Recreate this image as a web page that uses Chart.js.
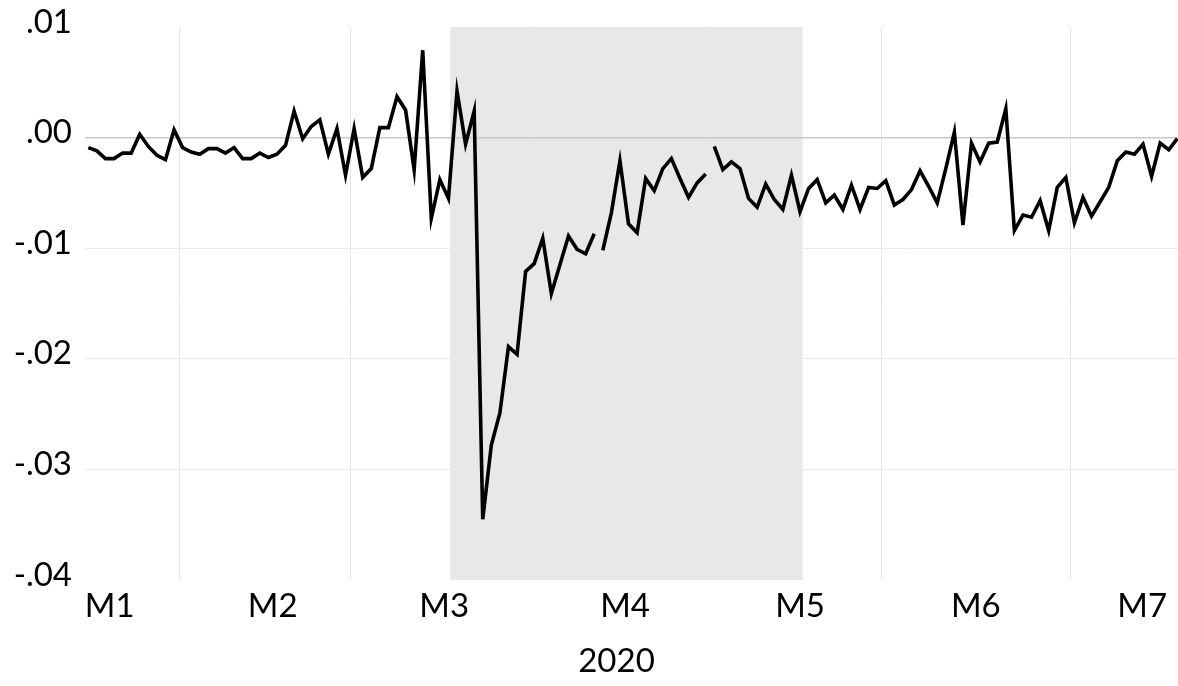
<!DOCTYPE html>
<html>
<head>
<meta charset="utf-8">
<script src="https://cdn.jsdelivr.net/npm/chart.js@4.4.1/dist/chart.umd.min.js"></script>
<style>
  html, body { margin: 0; padding: 0; background: #ffffff; }
  #wrap { width: 1178px; height: 686px; }
</style>
</head>
<body>
<div id="wrap"><canvas id="c" width="1178" height="686"></canvas></div>
<script>
// Daily series (trading-day index 0..127)
const values = [
  -0.0009, -0.0012, -0.0019, -0.0019, -0.0014, -0.0014, 0.0003, -0.0008, -0.0016, -0.0020,
   0.0007, -0.0009, -0.0013, -0.0015, -0.0010, -0.0010, -0.0014, -0.0009, -0.0019, -0.0019,
  -0.0014, -0.0018, -0.0015, -0.0007, 0.0024, -0.0001, 0.0010, 0.0016, -0.0015, 0.0008,
  -0.0034, 0.0008, -0.0036, -0.0028, 0.0009, 0.0009, 0.0037, 0.0025, -0.0029, 0.0079,
  -0.0073, -0.0038, -0.0055, 0.0042, -0.0006, 0.0024, -0.0345, -0.0278, -0.0249, -0.0189,
  -0.0196, -0.0121, -0.0114, -0.0091, -0.0141, -0.0115, -0.0089, -0.0101, -0.0105, -0.0087,
  -0.0102, -0.0068, -0.0021, -0.0078, -0.0086, -0.0037, -0.0048, -0.0028, -0.0019, -0.0037,
  -0.0054, -0.0041, -0.0033, -0.0008, -0.0029, -0.0022, -0.0028, -0.0055, -0.0063, -0.0042,
  -0.0056, -0.0065, -0.0034, -0.0067, -0.0046, -0.0038, -0.0059, -0.0052, -0.0065, -0.0043,
  -0.0065, -0.0045, -0.0046, -0.0039, -0.0061, -0.0056, -0.0047, -0.0030, -0.0044, -0.0059,
  -0.0028, 0.0005, -0.0079, -0.0005, -0.0022, -0.0005, -0.0004, 0.0026, -0.0084, -0.0070,
  -0.0072, -0.0057, -0.0084, -0.0045, -0.0036, -0.0077, -0.0054, -0.0071, -0.0058, -0.0045,
  -0.0021, -0.0013, -0.0015, -0.0006, -0.0035, -0.0005, -0.0011, -0.0001
];
// line is broken after these indices
const gapAfter = [59, 72];

// x axis: month labels and their positions (in trading-day index units)
const monthLabels = ['M1', 'M2', 'M3', 'M4', 'M5', 'M6', 'M7'];
const monthTickPos = [2.5, 21.5, 41.5, 62.6, 83.0, 103.5, 122.9];
const xGridPos = [10.6, 30.6, 51.5, 72.7, 92.5, 114.6];
const xRange = [-0.385, 127.08];
const xTitle = '2020';

// y axis ticks
const yTicks = [0.01, 0.00, -0.01, -0.02, -0.03, -0.04];
const yRange = [-0.04, 0.01];

// shaded period (index units)
const shadeRange = [42.2, 83.3];

const FONT = 'Lato, "Open Sans", "DejaVu Sans", sans-serif';
const FSIZE = 33;

function fmtY(v) {
  if (Math.abs(v) < 1e-9) return '.00';
  return v.toFixed(2).replace('0.', '.');
}

const shadePlugin = {
  id: 'shade',
  beforeDraw(chart) {
    const { ctx, chartArea, scales } = chart;
    const x0 = scales.x.getPixelForValue(shadeRange[0]);
    const x1 = scales.x.getPixelForValue(shadeRange[1]);
    ctx.save();
    ctx.fillStyle = '#e8e8e8';
    ctx.fillRect(x0, chartArea.top, x1 - x0, chartArea.bottom - chartArea.top);
    ctx.restore();
  }
};

// x-axis title, placed a little left of the plot centre as in the reference
const xTitlePlugin = {
  id: 'xTitle',
  afterDraw(chart) {
    const { ctx, scales } = chart;
    const cx = (scales.x.left + scales.x.right) / 2 - 15;
    const cy = scales.x.bottom - 25;
    ctx.save();
    ctx.font = FSIZE + 'px ' + FONT;
    ctx.fillStyle = '#000000';
    ctx.textAlign = 'center';
    ctx.textBaseline = 'middle';
    ctx.fillText(xTitle, cx, cy);
    ctx.restore();
  }
};

new Chart(document.getElementById('c'), {
  type: 'line',
  data: {
    datasets: [{
      data: values.map((v, i) => ({ x: i, y: v })),
      borderColor: '#000000',
      borderWidth: 3.6,
      pointRadius: 0,
      tension: 0,
      fill: false,
      borderJoinStyle: 'miter',
      segment: {
        borderColor: ctx => gapAfter.includes(ctx.p0DataIndex) ? 'rgba(0,0,0,0)' : '#000000'
      }
    }]
  },
  options: {
    responsive: false,
    animation: false,
    devicePixelRatio: 1,
    layout: { padding: { top: 27, right: 0, bottom: 0, left: 0 } },
    plugins: { legend: { display: false }, tooltip: { enabled: false } },
    scales: {
      x: {
        type: 'linear',
        min: xRange[0],
        max: xRange[1],
        afterBuildTicks(axis) {
          axis.ticks = monthTickPos.map(v => ({ value: v })).concat(xGridPos.map(v => ({ value: v })));
        },
        afterFit(axis) { axis.height = 106; axis.paddingLeft = 0; axis.paddingRight = 0; },
        border: { display: false },
        grid: {
          drawTicks: false,
          color: ctx => (ctx.tick && xGridPos.includes(ctx.tick.value)) ? '#e6e6e6' : 'rgba(0,0,0,0)',
          lineWidth: 1
        },
        ticks: {
          autoSkip: false,
          maxRotation: 0,
          padding: 7,
          color: '#000000',
          font: { family: FONT, size: FSIZE },
          callback: (v) => {
            const k = monthTickPos.indexOf(v);
            return k >= 0 ? monthLabels[k] : '';
          }
        }
      },
      y: {
        type: 'linear',
        min: yRange[0],
        max: yRange[1],
        afterBuildTicks(axis) { axis.ticks = yTicks.map(v => ({ value: v })); },
        afterFit(axis) { axis.width = 85; axis.paddingTop = 0; axis.paddingBottom = 0; },
        border: { display: false },
        grid: {
          drawTicks: false,
          color: ctx => {
            const v = ctx.tick ? ctx.tick.value : null;
            if (v === null) return 'rgba(0,0,0,0)';
            if (Math.abs(v) < 1e-9) return '#c8c8c8';
            if (Math.abs(v - yRange[0]) < 1e-9 || Math.abs(v - yRange[1]) < 1e-9) return 'rgba(0,0,0,0)';
            return '#ebebeb';
          },
          lineWidth: ctx => (ctx.tick && Math.abs(ctx.tick.value) < 1e-9) ? 1.5 : 1
        },
        ticks: {
          padding: 13,
          labelOffset: -5,
          color: '#000000',
          font: { family: FONT, size: FSIZE },
          callback: v => fmtY(v)
        }
      }
    }
  },
  plugins: [shadePlugin, xTitlePlugin]
});
</script>
</body>
</html>
